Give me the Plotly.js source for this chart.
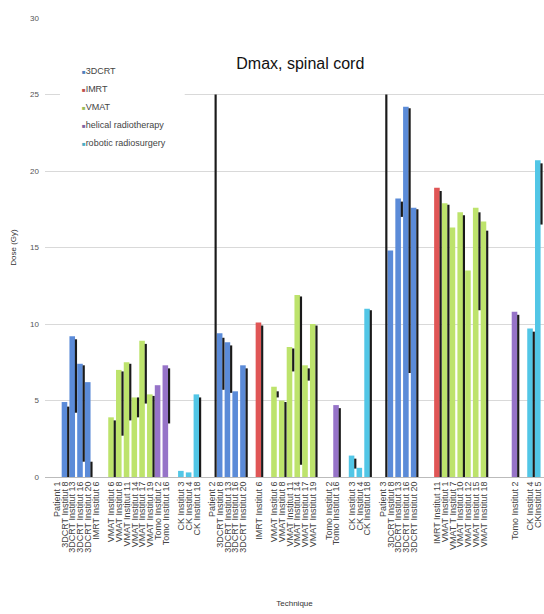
<!DOCTYPE html>
<html><head><meta charset="utf-8">
<script src="https://cdn.plot.ly/plotly-3.0.1.min.js"></script>
<style>html,body{margin:0;padding:0;background:#fff}</style>
</head><body><div id="chart" style="width:544px;height:614px"></div>
<script>
// Category labels ("" = empty spacer slot)
const labels = [
 "Patient 1","3DCRT Institut 8","3DCRT Institut 13","3DCRT Institut 16","3DCRT Institut 20","IMRT Institut 6","",
 "VMAT Institut 6","VMAT Institut 8","VMAT Institut 11","VMAT Institut 14","VMAT Institut 17","VMAT Institut 19",
 "Tomo Institut 2","Tomo Institut 16","","CK Institut 3","CK Institut 4","CK Institut 18","",
 "Patient 2","3DCRT Institut 8","3DCRT Institut 13","3DCRT Institut 16","3DCRT Institut 20","","IMRT Institut 6","",
 "VMAT Institut 6","VMAT Institut 8","VMAT Institut 11","VMAT Institut 14","VMAT Institut 17","VMAT Institut 19","",
 "Tomo Institut 2","Tomo Institut 16","","CK Institut 3","CK Institut 4","CK Institut 18","",
 "Patient 3","3DCRT Institut 8","3DCRT Institut 13","3DCRT Institut 16","3DCRT Institut 20","","",
 "IMRT Institut 11","VMAT Institut 1","VMAT T Institut 7","VMAT Institut 10","VMAT Institut 12","VMAT Institut 15","VMAT Institut 18",
 "","","","Tomo Institut 2","","CK Institut 4","CKInstitut 5"
];
// Dmax (Gy) per category, colored bar
const dmax = [
 null,4.9,9.2,7.4,6.2,null,null,
 3.9,7.0,7.5,5.2,8.9,5.4,
 6.0,7.3,null,0.4,0.3,5.4,null,
 null,9.4,8.8,5.6,7.3,null,10.1,null,
 5.9,5.0,8.5,11.9,7.3,10.0,null,
 null,4.7,null,1.4,0.6,11.0,null,
 null,14.8,18.2,24.2,17.6,null,null,
 18.9,17.9,16.3,17.3,13.5,17.6,16.7,
 null,null,null,10.8,null,9.7,20.7
];
// Black range line: low and high values (Gy)
const lineLow = [
 null,0,4.2,1.0,0,null,null,
 0,2.7,3.7,3.9,4.8,0,
 null,3.5,null,null,null,0,null,
 0,5.7,5.5,null,0,null,0,null,
 5.2,0,6.9,0.8,6.3,0,null,
 null,0,null,0.55,null,0,null,
 0,null,17.0,6.8,0,null,null,
 0,0,null,0,null,10.9,0,
 null,null,null,0,null,0,16.5
];
const lineHigh = [
 null,4.6,9.0,7.3,1.0,null,null,
 3.7,6.9,7.4,5.2,8.7,5.3,
 null,7.1,null,null,null,5.2,null,
 25,9.1,8.6,null,7.1,null,9.9,null,
 5.6,4.9,8.4,11.8,7.1,9.9,null,
 null,4.5,null,1.2,null,10.9,null,
 25,null,18.0,24.1,17.5,null,null,
 18.7,17.8,null,17.1,null,17.3,16.1,
 null,null,null,10.6,null,9.5,20.5
];
const techNames = ["3DCRT","IMRT","VMAT","helical radiotherapy","robotic radiosurgery"];
const techPrefix = ["3DCRT","IMRT","VMAT","Tomo","CK"];
const barColors = ["#5b8bd8","#e05656","#bde36c","#9673c8","#52c6e6"];
const legendColors = ["#4f81bd","#c0504d","#9bbb59","#8064a2","#4bacc6"];

const idx = labels.map((_, i) => i);
const traces = [];
techPrefix.forEach((p, t) => {
  const xs = [], ys = [];
  labels.forEach((l, i) => { if (l.startsWith(p) && dmax[i] != null) { xs.push(i); ys.push(dmax[i]); } });
  traces.push({type:"bar", x:xs, y:ys, width:0.72, offset:-0.4, marker:{color:barColors[t], line:{width:0}},
    name:techNames[t], showlegend:false, hoverinfo:"skip"});
});
const lx = [], ly = [], lb = [];
idx.forEach(i => { if (lineHigh[i] != null) { lx.push(i); ly.push(lineHigh[i] - lineLow[i]); lb.push(lineLow[i]); } });
traces.push({type:"bar", x:lx, y:ly, base:lb, width:0.28, offset:0.3, marker:{color:"#1a1a1a", line:{width:0}},
  showlegend:false, hoverinfo:"skip"});

const tv = [], tt = [];
labels.forEach((l, i) => { if (l) { tv.push(i); tt.push(l); } });

// Legend drawn as text annotations (small square + name), on a white box
const legendAnn = techNames.map((n, t) => ({
  xref:"paper", yref:"paper", x:0.070, y:0.885 - t*0.0395, xanchor:"left", yanchor:"middle", showarrow:false,
  text:'<span style="color:' + legendColors[t] + ';font-size:6px">■</span>' + n,
  font:{size:9, color:"#444"}
}));

const layout = {
  width:544, height:614,
  margin:{l:45, r:0, t:18, b:137},
  paper_bgcolor:"#fff", plot_bgcolor:"#fff",
  barmode:"overlay",
  font:{family:"Liberation Sans, Arial, sans-serif", color:"#333"},
  title:{text:"Dmax, spinal cord", x:0.552, xref:"container", y:0.897, yanchor:"middle",
    font:{size:16, color:"#111"}},
  xaxis:{range:[-1.55, 62.76], tickvals:tv, ticktext:tt, tickangle:-90, tickfont:{size:9, color:"#444"},
    showgrid:false, zeroline:false, showline:true, linecolor:"#bbb", linewidth:1, ticks:"",
    title:{text:"Technique", font:{size:8, color:"#333"}, standoff:48}},
  yaxis:{range:[0,30], dtick:5, tickfont:{size:8, color:"#555"}, gridcolor:"#d9d9d9", gridwidth:1,
    zeroline:false, showline:false, ticks:"", ticklabelstandoff:5,
    title:{text:"Dose (Gy)", font:{size:8, color:"#333"}, standoff:12}},
  shapes:[{type:"rect", xref:"paper", yref:"paper", x0:0.03, x1:0.28, y0:0.712, y1:0.917,
    fillcolor:"#fff", line:{width:0}, layer:"above"}],
  annotations:legendAnn,
  showlegend:false
};
Plotly.newPlot("chart", traces, layout, {staticPlot:true, displayModeBar:false});
</script></body></html>
